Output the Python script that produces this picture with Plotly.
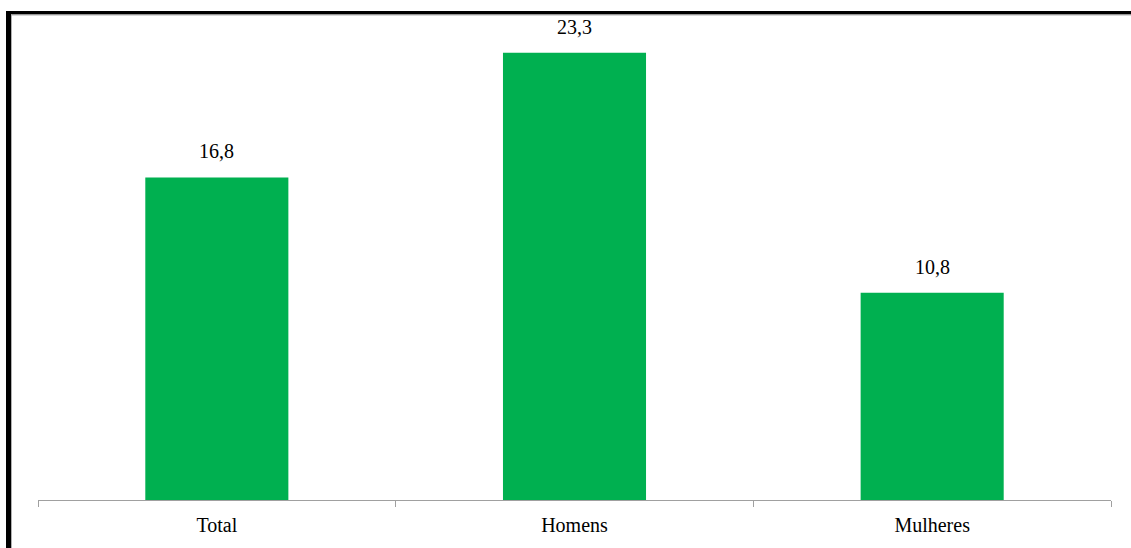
import plotly.graph_objects as go

# Chart data
categories = ["Total", "Homens", "Mulheres"]
values = [16.8, 23.3, 10.8]
value_labels = ["16,8", "23,3", "10,8"]

W, H = 1131, 548
ML, MR, MT, MB = 38, 20, 30, 48
plot_w = W - ML - MR
plot_h = H - MT - MB

SERIF = "'Times New Roman', 'Liberation Serif', 'DejaVu Serif', serif"


def px_x(p):
    return (p - ML) / plot_w


def px_y(p):
    return (H - MB - p) / plot_h


fig = go.Figure()
fig.add_trace(go.Bar(
    x=categories,
    y=values,
    marker=dict(color="#00b050", line=dict(width=0)),
    width=0.4,
    hoverinfo="skip",
))

for c, v, lab in zip(categories, values, value_labels):
    fig.add_annotation(
        x=c, y=v, text=lab, showarrow=False,
        yanchor="bottom", yshift=13,
        font=dict(family=SERIF, size=20, color="#000000"),
    )

# Frame: thick black edge on the left and top with a thin grey inner line
frame = [
    dict(x0=px_x(6), x1=px_x(11), y0=px_y(H + 5), y1=px_y(11), color="#000000"),
    dict(x0=px_x(6), x1=px_x(W + 5), y0=px_y(14.5), y1=px_y(11), color="#000000"),
    dict(x0=px_x(11), x1=px_x(12), y0=px_y(H + 5), y1=px_y(14.5), color="#b0b0b0"),
    dict(x0=px_x(11), x1=px_x(W + 5), y0=px_y(15.5), y1=px_y(14.5), color="#b0b0b0"),
]
for f in frame:
    fig.add_shape(type="rect", xref="paper", yref="paper",
                  x0=f["x0"], x1=f["x1"], y0=f["y0"], y1=f["y1"],
                  fillcolor=f["color"], line=dict(width=0), layer="above")

fig.update_layout(
    width=W, height=H,
    margin=dict(l=ML, r=MR, t=MT, b=MB, pad=0),
    paper_bgcolor="#ffffff",
    plot_bgcolor="#ffffff",
    showlegend=False,
    bargap=0.6,
    xaxis=dict(
        showline=True, linecolor="#a0a0a0", linewidth=1,
        ticks="outside", tickson="boundaries", ticklen=6,
        tickcolor="#a0a0a0", tickwidth=1,
        ticklabelstandoff=7,
        tickfont=dict(family=SERIF, size=20, color="#000000"),
        showgrid=False, zeroline=False, fixedrange=True,
    ),
    yaxis=dict(
        range=[0, plot_h / 19.2],
        visible=False, showgrid=False, zeroline=False, fixedrange=True,
    ),
)

fig.write_html("out.html")
